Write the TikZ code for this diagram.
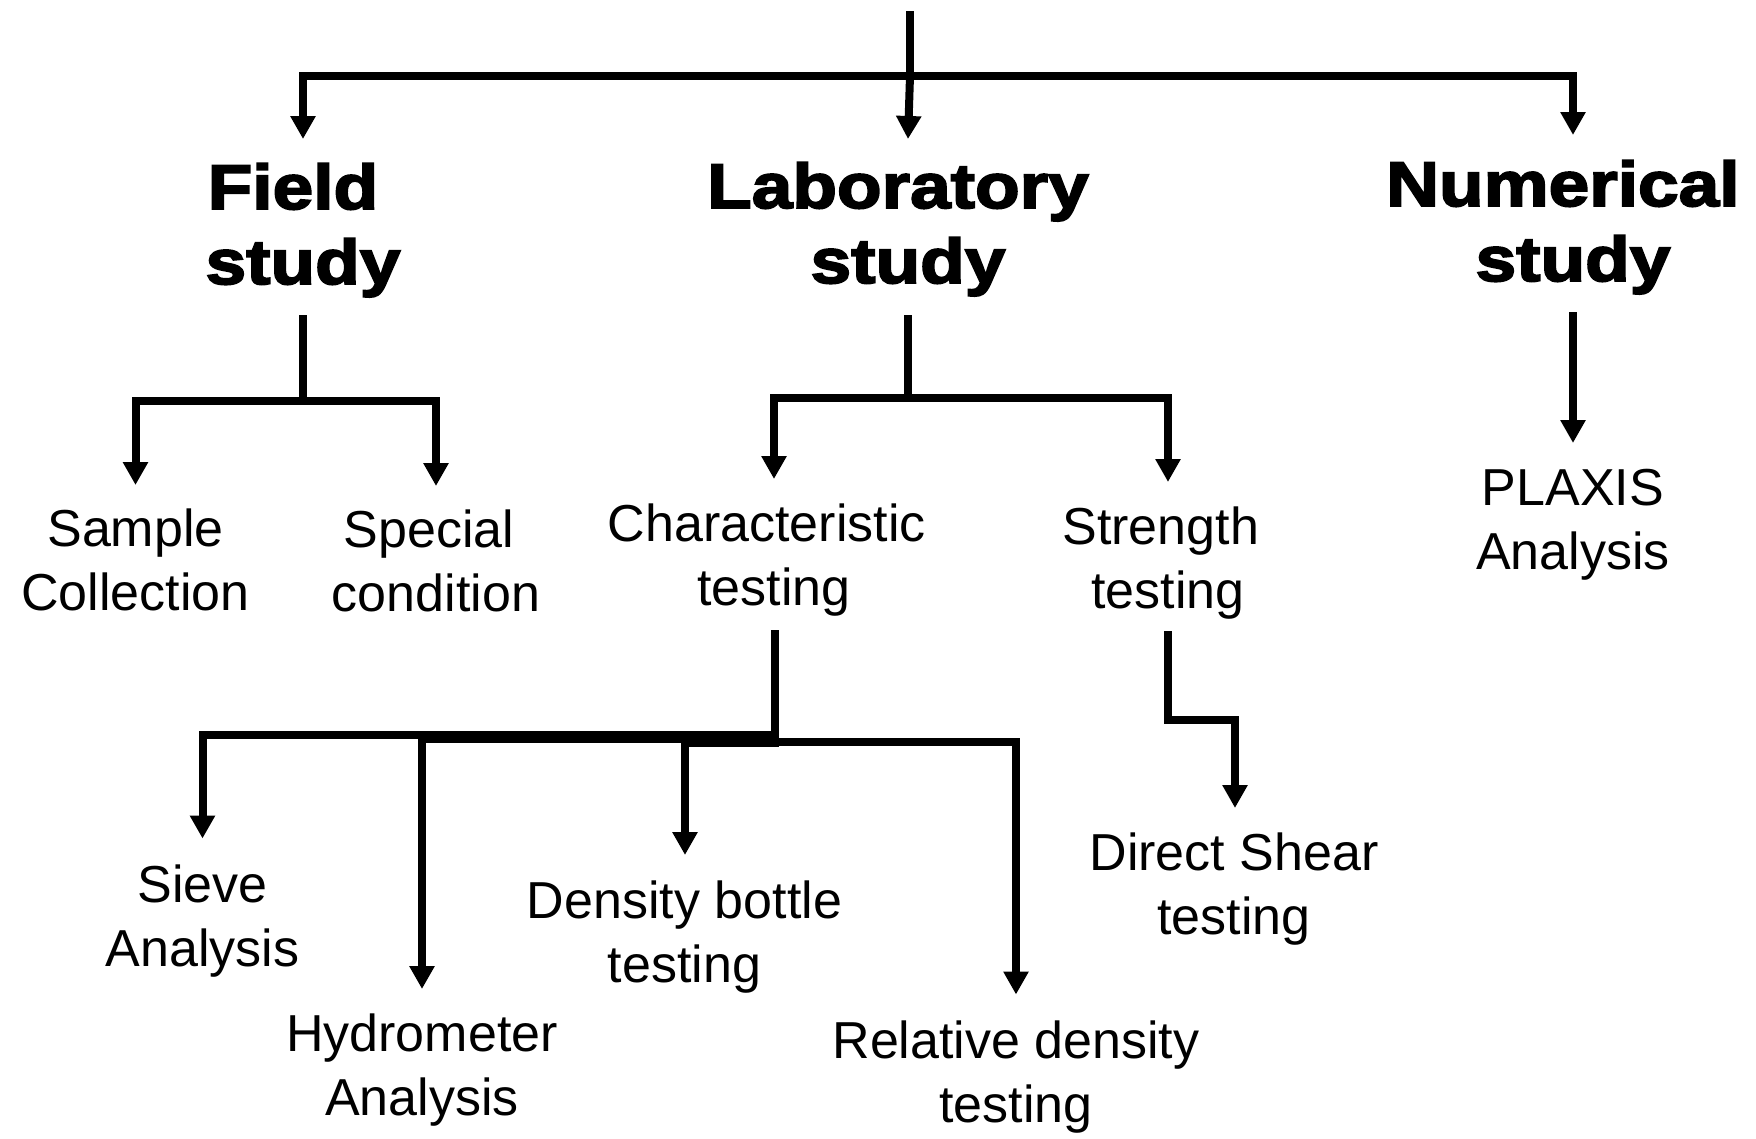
\documentclass[tikz,border=0pt]{standalone}
\usepackage{fontspec}
\setmainfont{Liberation Sans}
\newfontfamily\hbf{Liberation Sans}[FakeStretch=1.16,FakeBold=3]
\usetikzlibrary{arrows.meta}
\begin{document}
\begin{tikzpicture}[x=1pt,y=-1pt,
  conn/.style={line width=8pt, line join=miter, line cap=butt},
  arr/.style={conn, -{Triangle[length=23pt,width=24pt]}},
  lbl/.style={inner sep=0pt, anchor=base, font=\fontsize{52}{64}\selectfont},
  head/.style={inner sep=0pt, anchor=base, font=\hbf\bfseries\fontsize{63}{75}\selectfont}]
\fill[white] (0,0) rectangle (1756,1138);
\useasboundingbox (0,0) rectangle (1756,1138);

% headings
\node[head] (field) at (303,209) {\begin{tabular}[t]{@{}c@{}}Field\kern.32em\\study\end{tabular}};
\node[head] (lab) at (908,208) {\begin{tabular}[t]{@{}c@{}}Laboratory\kern.32em\\study\end{tabular}};
\node[head] (num) at (1573,206) {\begin{tabular}[t]{@{}c@{}}Numerical\kern.32em\\study\end{tabular}};

% labels
\node[lbl] (sample) at (135.5,546) {\begin{tabular}[t]{@{}c@{}}Sample\\Collection\end{tabular}};
\node[lbl] (special) at (436,547) {\begin{tabular}[t]{@{}c@{}}Special\kern.278em\\condition\end{tabular}};
\node[lbl] (char) at (774,541) {\begin{tabular}[t]{@{}c@{}}Characteristic\kern.278em\\testing\end{tabular}};
\node[lbl] (strength) at (1168,544) {\begin{tabular}[t]{@{}c@{}}Strength\kern.278em\\testing\end{tabular}};
\node[lbl] (plaxis) at (1573,505) {\begin{tabular}[t]{@{}c@{}}PLAXIS\\Analysis\end{tabular}};
\node[lbl] (sieve) at (202.5,902) {\begin{tabular}[t]{@{}c@{}}Sieve\\Analysis\end{tabular}};
\node[lbl] (hydro) at (422,1051) {\begin{tabular}[t]{@{}c@{}}Hydrometer\\Analysis\end{tabular}};
\node[lbl] (density) at (684.5,918) {\begin{tabular}[t]{@{}c@{}}Density bottle\\testing\end{tabular}};
\node[lbl] (relative) at (1016,1058) {\begin{tabular}[t]{@{}c@{}}Relative density\\testing\end{tabular}};
\node[lbl] (direct) at (1234,870) {\begin{tabular}[t]{@{}c@{}}Direct Shear\\testing\end{tabular}};

% connector points
\coordinate (topend) at (910,11);
\coordinate (topj) at (910,76);
\coordinate (fieldtip) at (303,139);
\coordinate (labtip) at (908,139);
\coordinate (numtip) at (1573,135);

\coordinate (fieldtop) at (302.5,315);
\coordinate (fieldj) at (302.5,400.5);
\coordinate (sampletip) at (135.5,485);
\coordinate (specialtip) at (436,486);

\coordinate (labtop) at (908,315);
\coordinate (labj) at (908,398);
\coordinate (chartip) at (774,479);
\coordinate (strtip) at (1168,482);

\coordinate (numtop) at (1573,312);
\coordinate (plaxtip) at (1573,443);

\coordinate (chartop) at (775,630);
\coordinate (charbot) at (775,747);
\coordinate (sievej) at (775,735);
\coordinate (hydroj) at (775,739);
\coordinate (densj) at (775,743);
\coordinate (relj) at (775,741.5);
\coordinate (sievetip) at (202.5,838.5);
\coordinate (hydrotip) at (422,989);
\coordinate (denstip) at (685,855);
\coordinate (reltip) at (1016,994.5);

\coordinate (strtop) at (1168,631);
\coordinate (strbend) at (1235,720);
\coordinate (directtip) at (1235,808);

% connectors
\draw[conn] (topend) -- (topj);
\draw[arr] (topj) -| (fieldtip);
\draw[arr] (topj) -- (labtip);
\draw[arr] (topj) -| (numtip);

\draw[conn] (fieldtop) -- (fieldj);
\draw[arr] (fieldj) -| (sampletip);
\draw[arr] (fieldj) -| (specialtip);

\draw[conn] (labtop) -- (labj);
\draw[arr] (labj) -| (chartip);
\draw[arr] (labj) -| (strtip);

\draw[arr] (numtop) -- (plaxtip);

\draw[conn] (chartop) -- (charbot);
\draw[arr] (sievej) -| (sievetip);
\draw[arr] (hydroj) -| (hydrotip);
\draw[arr] (densj) -| (denstip);
\draw[arr] (relj) -| (reltip);

\draw[arr] (strtop) |- (strbend) -- (directtip);
\end{tikzpicture}
\end{document}
